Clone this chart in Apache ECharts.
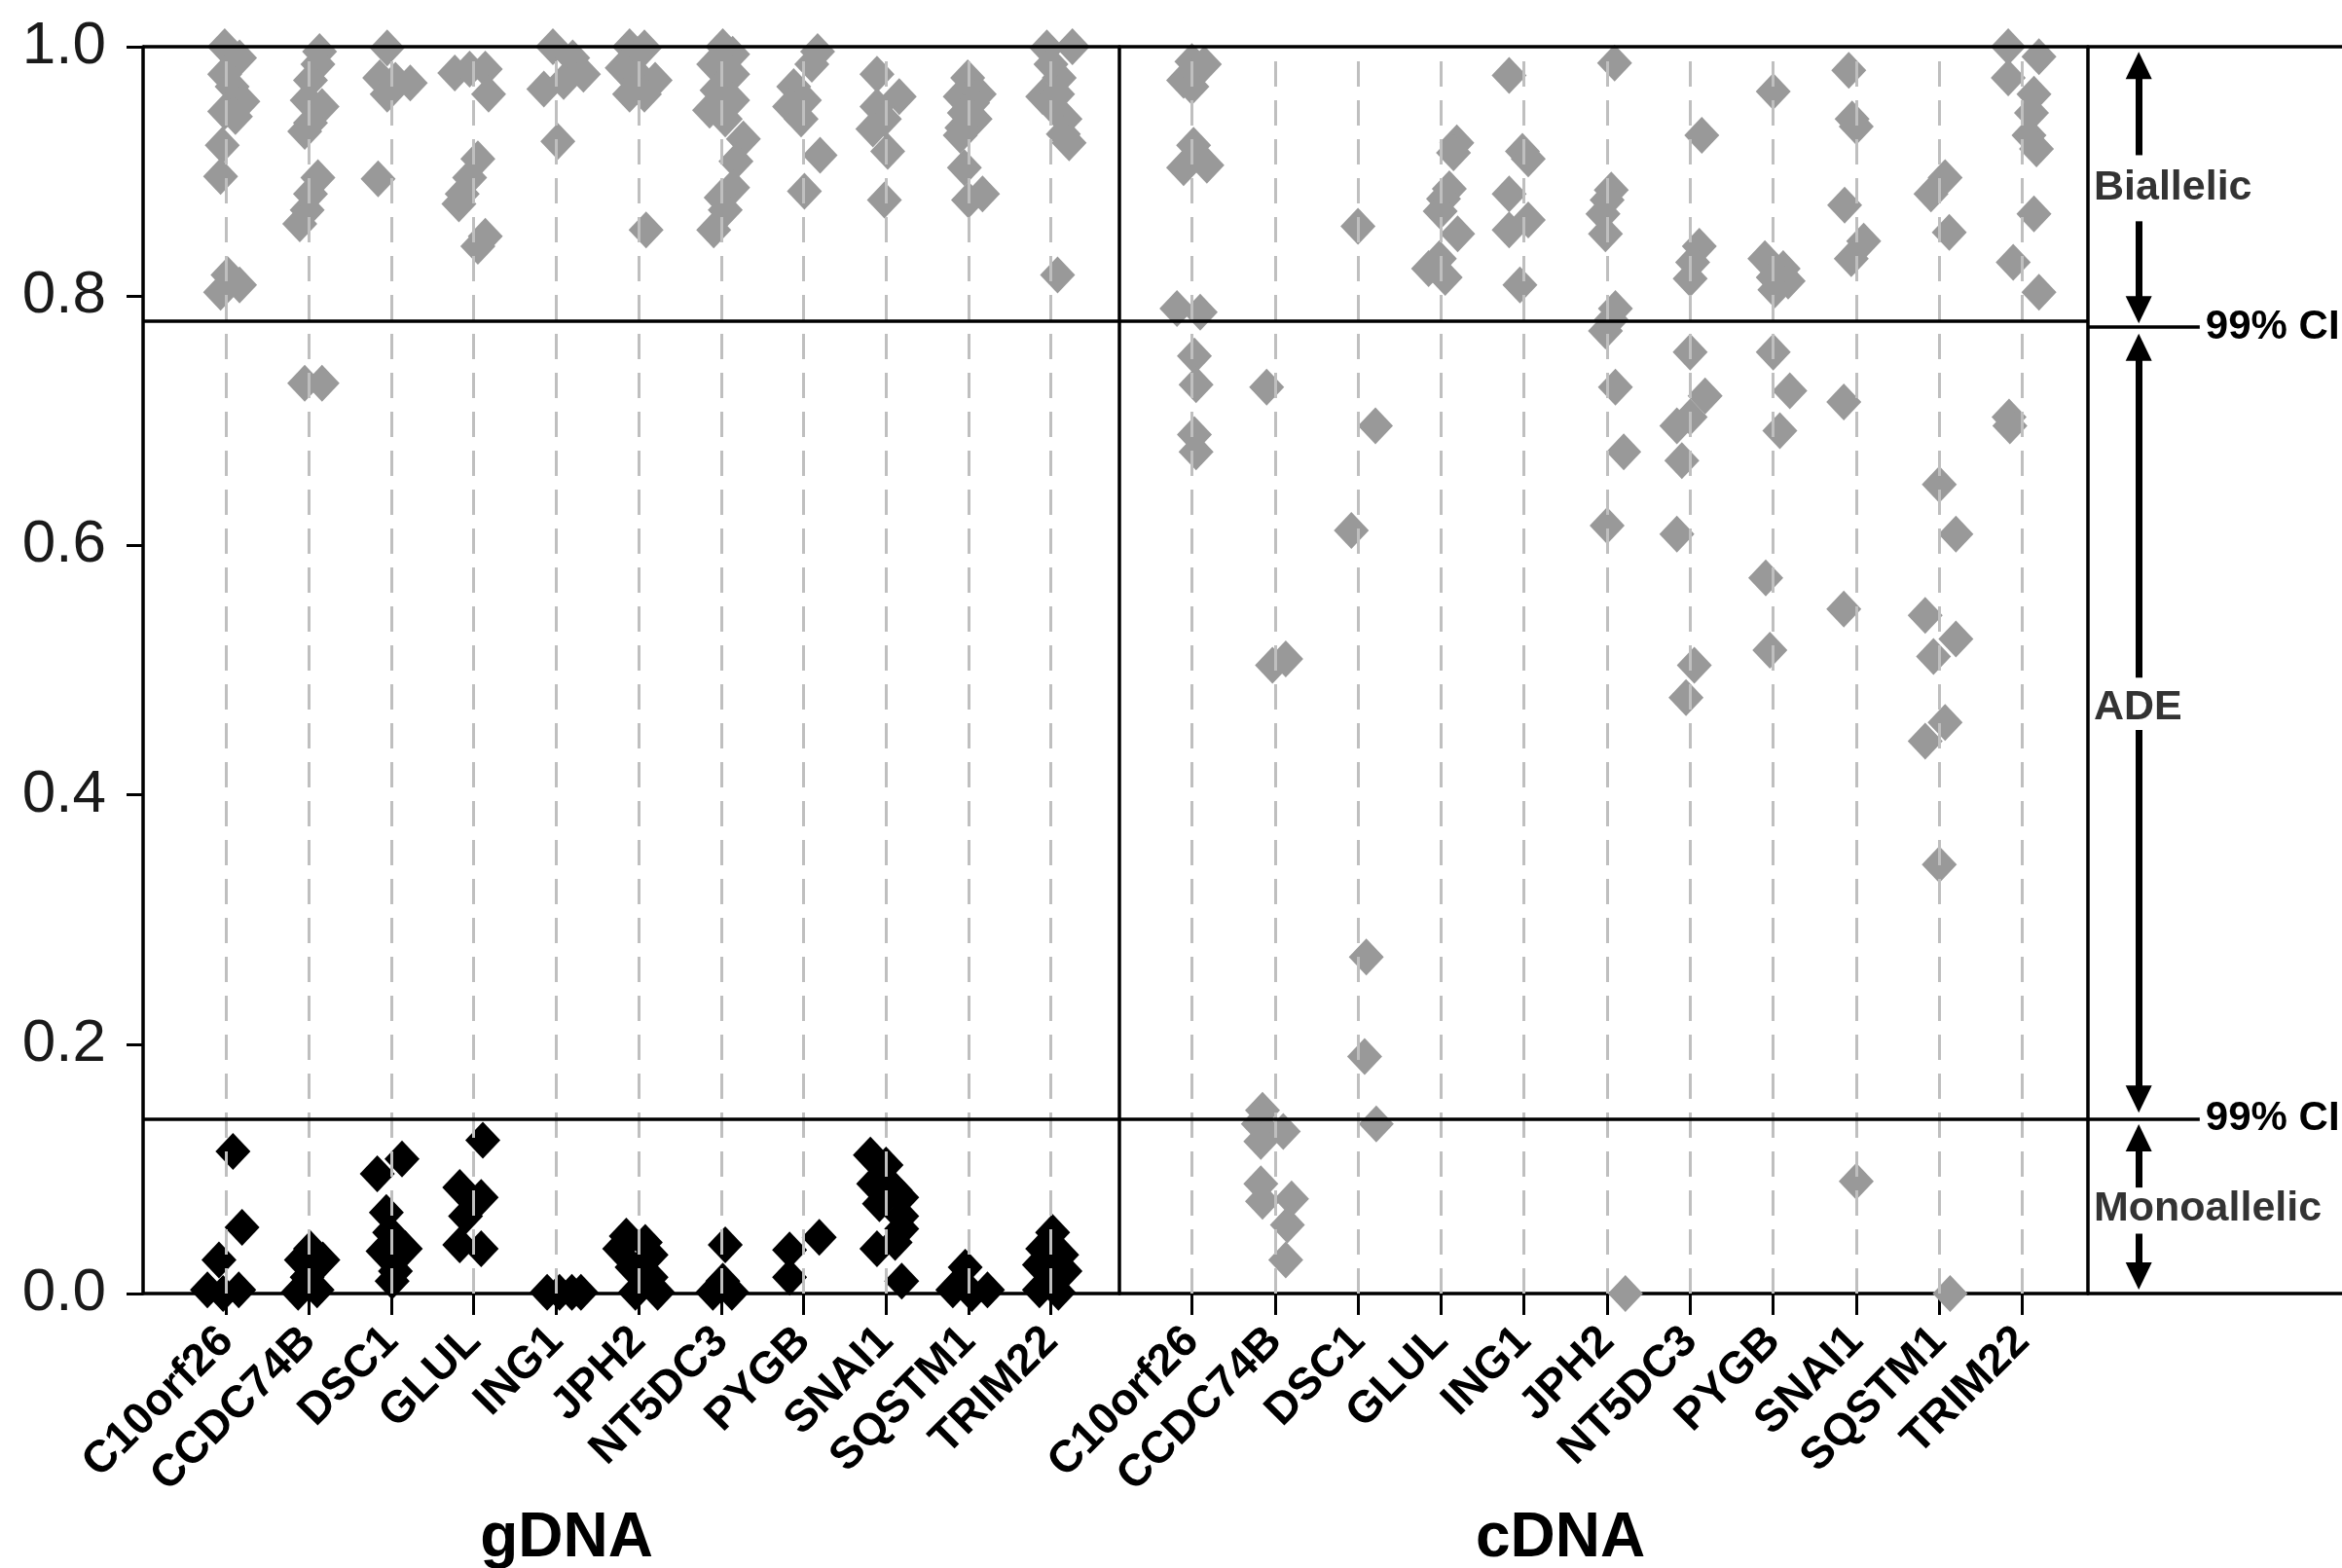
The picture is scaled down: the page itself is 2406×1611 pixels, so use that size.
<!DOCTYPE html>
<html>
<head>
<meta charset="utf-8">
<title>Allelic ratio, gDNA vs cDNA</title>
<script src="https://cdn.jsdelivr.net/npm/echarts@6/dist/echarts.min.js"></script>
<style>
  html, body { margin: 0; padding: 0; background: #fff; }
  #chart { width: 2406px; height: 1611px; }
</style>
</head>
<body>
<div id="chart"></div>
<script>
var genes = ['C10orf26', 'CCDC74B', 'DSC1', 'GLUL', 'ING1', 'JPH2', 'NT5DC3', 'PYGB', 'SNAI1', 'SQSTM1', 'TRIM22'];
var yTicks = [0, 0.2, 0.4, 0.6, 0.8, 1.0];
var ciBounds = [0.14, 0.775];

// rows are [gene index, horizontal jitter, allelic ratio]
var gdnaHigh = [
    [0, -0.02, 1.0], [0, 0.16, 0.991], [0, -0.02, 0.978], [0, 0.07, 0.968], [0, 0.2, 0.956], [0, -0.02, 0.948],
    [0, 0.11, 0.944], [0, -0.05, 0.921], [0, -0.07, 0.896], [0, 0.02, 0.817], [0, 0.16, 0.809], [0, -0.07, 0.803],
    [1, 0.13, 0.996], [1, 0.11, 0.986], [1, 0.02, 0.973], [1, -0.02, 0.957], [1, 0.16, 0.952], [1, 0.02, 0.939],
    [1, -0.05, 0.932], [1, 0.11, 0.895], [1, 0.02, 0.882], [1, -0.02, 0.869], [1, -0.11, 0.858], [1, -0.05, 0.730], [1, 0.16, 0.730],
    [2, -0.05, 0.999], [2, -0.14, 0.975], [2, 0.05, 0.973], [2, 0.23, 0.971], [2, -0.05, 0.962], [2, -0.16, 0.894],
    [3, -0.23, 0.979], [3, -0.05, 0.982], [3, 0.14, 0.982], [3, 0.18, 0.962], [3, 0.05, 0.910], [3, -0.05, 0.895],
    [3, -0.14, 0.882], [3, -0.18, 0.874], [3, 0.14, 0.848], [3, 0.05, 0.840],
    [4, -0.04, 1.0], [4, 0.2, 0.991], [4, 0.33, 0.978], [4, 0.09, 0.972], [4, -0.15, 0.966], [4, 0.02, 0.924],
    [5, -0.11, 1.0], [5, 0.07, 0.999], [5, -0.2, 0.983], [5, -0.02, 0.978], [5, 0.2, 0.973], [5, -0.11, 0.962],
    [5, 0.07, 0.962], [5, 0.09, 0.853],
    [6, 0.02, 1.0], [6, 0.14, 0.994], [6, -0.09, 0.986], [6, 0.14, 0.978], [6, -0.05, 0.965], [6, 0.14, 0.957],
    [6, -0.14, 0.949], [6, 0.05, 0.942], [6, 0.27, 0.926], [6, 0.18, 0.908], [6, 0.14, 0.887], [6, 0.0, 0.879],
    [6, 0.05, 0.869], [6, -0.09, 0.853],
    [7, 0.17, 0.996], [7, 0.1, 0.986], [7, -0.12, 0.968], [7, 0.01, 0.957], [7, -0.17, 0.952], [7, -0.03, 0.942],
    [7, 0.2, 0.913], [7, 0.01, 0.884],
    [8, -0.11, 0.978], [8, 0.16, 0.960], [8, -0.11, 0.952], [8, -0.02, 0.942], [8, -0.16, 0.934], [8, 0.02, 0.916], [8, -0.02, 0.877],
    [9, -0.01, 0.975], [9, -0.1, 0.960], [9, 0.13, 0.962], [9, 0.05, 0.955], [9, -0.05, 0.947], [9, 0.08, 0.942],
    [9, -0.08, 0.935], [9, -0.1, 0.929], [9, -0.05, 0.903], [9, 0.17, 0.882], [9, 0.0, 0.877],
    [10, 0.26, 1.0], [10, -0.05, 0.999], [10, 0.0, 0.986], [10, 0.1, 0.975], [10, -0.1, 0.960], [10, 0.08, 0.962],
    [10, 0.05, 0.950], [10, 0.17, 0.942], [10, 0.15, 0.930], [10, 0.22, 0.923], [10, 0.08, 0.817]
];

var gdnaLow = [
    [0, 0.08, 0.114], [0, 0.19, 0.053], [0, -0.09, 0.027], [0, -0.23, 0.003], [0, -0.04, 0.0], [0, 0.15, 0.003],
    [1, -0.09, 0.027], [1, 0.17, 0.027], [1, 0.02, 0.036], [1, -0.02, 0.013], [1, -0.13, 0.001], [1, 0.1, 0.003],
    [2, -0.17, 0.096], [2, 0.13, 0.108], [2, -0.06, 0.065], [2, -0.02, 0.049], [2, 0.17, 0.036], [2, -0.1, 0.034],
    [2, 0.05, 0.018], [2, 0.01, 0.010],
    [3, 0.11, 0.123], [3, -0.17, 0.085], [3, 0.09, 0.077], [3, -0.1, 0.062], [3, -0.17, 0.039], [3, 0.09, 0.036],
    [4, -0.11, 0.001], [4, 0.04, 0.001], [4, 0.19, 0.001], [4, 0.3, 0.001],
    [5, -0.15, 0.046], [5, 0.08, 0.041], [5, 0.15, 0.031], [5, -0.08, 0.021], [5, 0.15, 0.013], [5, -0.04, 0.001],
    [5, 0.23, 0.001], [5, -0.23, 0.036],
    [6, 0.05, 0.039], [6, -0.1, 0.001], [6, 0.13, 0.001], [6, 0.02, 0.010],
    [7, -0.17, 0.035], [7, 0.19, 0.045], [7, -0.17, 0.013],
    [8, -0.19, 0.111], [8, 0.0, 0.103], [8, -0.15, 0.088], [8, 0.11, 0.083], [8, 0.19, 0.077], [8, -0.08, 0.072],
    [8, 0.19, 0.052], [8, 0.19, 0.062], [8, -0.11, 0.036], [8, 0.11, 0.041], [8, 0.19, 0.010],
    [9, -0.04, 0.021], [9, -0.19, 0.003], [9, 0.04, 0.0], [9, 0.23, 0.003],
    [10, 0.02, 0.049], [10, -0.1, 0.036], [10, 0.13, 0.031], [10, -0.14, 0.023], [10, 0.17, 0.018], [10, -0.02, 0.010],
    [10, -0.14, 0.003], [10, 0.09, 0.001]
];

var cdna = [
    [0, 0.0, 0.988], [0, 0.15, 0.986], [0, -0.1, 0.973], [0, 0.0, 0.968], [0, 0.02, 0.921], [0, -0.1, 0.903],
    [0, 0.18, 0.905], [0, -0.18, 0.790], [0, 0.1, 0.787], [0, 0.03, 0.752], [0, 0.05, 0.729], [0, 0.03, 0.689], [0, 0.05, 0.675],
    [1, -0.1, 0.727], [1, -0.03, 0.504], [1, 0.13, 0.509], [1, -0.15, 0.147], [1, -0.2, 0.136], [1, 0.1, 0.130],
    [1, -0.17, 0.122], [1, -0.17, 0.088], [1, -0.15, 0.074], [1, 0.2, 0.076], [1, 0.15, 0.055], [1, 0.13, 0.027],
    [2, 0.0, 0.856], [2, 0.21, 0.696], [2, -0.08, 0.612], [2, 0.1, 0.270], [2, 0.08, 0.190], [2, 0.22, 0.136],
    [3, 0.19, 0.923], [3, 0.15, 0.915], [3, 0.1, 0.886], [3, 0.03, 0.878], [3, -0.01, 0.868], [3, 0.2, 0.850],
    [3, -0.02, 0.830], [3, -0.15, 0.822], [3, 0.05, 0.815],
    [4, -0.18, 0.977], [4, -0.02, 0.916], [4, 0.05, 0.910], [4, -0.18, 0.882], [4, 0.05, 0.861], [4, -0.18, 0.853], [4, -0.05, 0.809],
    [5, 0.09, 0.987], [5, 0.05, 0.885], [5, 0.0, 0.877], [5, -0.05, 0.866], [5, -0.02, 0.850], [5, 0.1, 0.790],
    [5, 0.05, 0.781], [5, -0.02, 0.772], [5, 0.1, 0.727], [5, 0.2, 0.675], [5, 0.0, 0.616], [5, 0.22, 0.0],
    [6, 0.14, 0.929], [6, 0.11, 0.840], [6, 0.03, 0.827], [6, 0.0, 0.814], [6, 0.0, 0.755], [6, 0.18, 0.720],
    [6, 0.0, 0.703], [6, -0.16, 0.696], [6, -0.1, 0.668], [6, -0.16, 0.609], [6, 0.05, 0.504], [6, -0.05, 0.478],
    [7, 0.0, 0.964], [7, -0.1, 0.830], [7, 0.12, 0.822], [7, 0.0, 0.815], [7, 0.18, 0.812], [7, 0.02, 0.805],
    [7, 0.0, 0.755], [7, 0.2, 0.724], [7, 0.08, 0.692], [7, -0.09, 0.574], [7, -0.04, 0.516],
    [8, -0.09, 0.981], [8, -0.05, 0.942], [8, 0.0, 0.936], [8, -0.14, 0.873], [8, 0.09, 0.844], [8, -0.06, 0.830],
    [8, -0.15, 0.715], [8, -0.15, 0.549], [8, 0.0, 0.090],
    [9, -0.1, 0.882], [9, 0.07, 0.895], [9, 0.12, 0.851], [9, 0.0, 0.649], [9, 0.2, 0.609], [9, -0.17, 0.544],
    [9, 0.2, 0.525], [9, -0.07, 0.511], [9, 0.07, 0.458], [9, -0.17, 0.443], [9, 0.0, 0.344], [9, 0.13, 0.0],
    [10, -0.17, 1.0], [10, 0.2, 0.992], [10, -0.17, 0.975], [10, 0.14, 0.962], [10, 0.11, 0.947], [10, 0.08, 0.929],
    [10, 0.17, 0.918], [10, 0.14, 0.866], [10, -0.11, 0.827], [10, 0.2, 0.803], [10, -0.16, 0.703], [10, -0.15, 0.696]
];

// right-hand key
var zoneNames = ['Biallelic', 'ADE', 'Monoallelic'];
var zoneLabelY = [0.887, 0.47, 0.068];
// arrow shafts [from, to], head drawn on the "to" end
var arrowShafts = [[0.913, 0.985], [0.860, 0.789], [0.494, 0.759], [0.452, 0.156], [0.085, 0.125], [0.048, 0.014]];

var FONT = 'Liberation Sans, Arial, Helvetica, sans-serif';
var GRAY = '#999999';

var chart = echarts.init(document.getElementById('chart'));

function place(rows) {
    return rows.map(function (r) { return [r[0] + r[1], r[2]]; });
}

function geneAxis(gridIndex, min, max) {
    return {
        type: 'value',
        gridIndex: gridIndex,
        min: min,
        max: max,
        axisLine: { onZero: false, lineStyle: { color: '#000', width: 3.5 } },
        axisTick: {
            customValues: genes.map(function (g, i) { return i; }),
            length: 22,
            lineStyle: { color: '#000', width: 3 }
        },
        axisLabel: {
            customValues: genes.map(function (g, i) { return i; }),
            formatter: function (v) { return genes[Math.round(v)]; },
            rotate: 45,
            margin: 42,
            color: '#000',
            fontFamily: FONT,
            fontWeight: 'bold',
            fontSize: 46
        },
        splitLine: { show: false }
    };
}

function ratioAxis(gridIndex, withLabels) {
    return {
        type: 'value',
        gridIndex: gridIndex,
        min: yTicks[0],
        max: yTicks[yTicks.length - 1],
        interval: 0.2,
        axisLine: { show: true, onZero: false, lineStyle: { color: '#000', width: 3.5 } },
        axisTick: { show: withLabels, length: 17, lineStyle: { color: '#000', width: 3 } },
        axisLabel: {
            show: withLabels,
            formatter: function (v) { return v.toFixed(1); },
            margin: 38,
            color: '#1a1a1a',
            fontFamily: FONT,
            fontSize: 62
        },
        splitLine: { show: false }
    };
}

// dashed gene guides plus the box lines at 1.0 and the two 99% CI bounds
function guideLines() {
    var lines = genes.map(function (g, i) {
        return { xAxis: i, lineStyle: { type: [26, 14], color: '#bfbfbf', width: 3 } };
    });
    lines.push({ yAxis: 1.0 });
    ciBounds.forEach(function (b) { lines.push({ yAxis: b }); });
    return lines;
}

function guideSeries(idx) {
    return {
        type: 'line',
        xAxisIndex: idx,
        yAxisIndex: idx,
        data: [],
        z: 1,
        markLine: {
            silent: true,
            animation: false,
            symbol: 'none',
            label: { show: false },
            lineStyle: { color: '#000', width: 3.5, type: 'solid' },
            data: guideLines()
        }
    };
}

function dots(idx, rows, color) {
    return {
        type: 'scatter',
        xAxisIndex: idx,
        yAxisIndex: idx,
        symbol: 'diamond',
        symbolSize: [36, 38],
        clip: false,
        z: 3,
        itemStyle: { color: color, opacity: 1 },
        data: place(rows)
    };
}

var keyLines = [[{ coord: [0, 1.0] }, { coord: [1, 1.0] }]];
ciBounds.forEach(function (b) {
    keyLines.push([
        { coord: [0, b] },
        {
            coord: [0.44, b],
            label: {
                show: true, position: 'end', distance: 6, formatter: '99% CI',
                color: '#000', fontFamily: FONT, fontWeight: 'bold', fontSize: 42
            }
        }
    ]);
});
arrowShafts.forEach(function (s) {
    keyLines.push([
        { coord: [0.2, s[0]], symbol: 'none' },
        { coord: [0.2, s[1]], symbol: 'triangle', symbolSize: [27, 28], lineStyle: { width: 7 } }
    ]);
});

chart.setOption({
    animation: false,
    textStyle: { fontFamily: FONT },
    title: [
        { text: 'gDNA', left: 582, top: 1549, textAlign: 'center', padding: 0,
          textStyle: { fontFamily: FONT, fontWeight: 'bold', fontSize: 64, color: '#000' } },
        { text: 'cDNA', left: 1603, top: 1549, textAlign: 'center', padding: 0,
          textStyle: { fontFamily: FONT, fontWeight: 'bold', fontSize: 64, color: '#000' } }
    ],
    grid: [
        { left: 147, top: 48, width: 1003, height: 1281, containLabel: false, outerBoundsMode: 'none' },
        { left: 1150, top: 48, width: 995, height: 1281, containLabel: false, outerBoundsMode: 'none' },
        { left: 2145, top: 48, width: 261, height: 1281, containLabel: false, outerBoundsMode: 'none' }
    ],
    xAxis: [
        geneAxis(0, -1.01, 10.83),
        geneAxis(1, -0.873, 10.79),
        {
            type: 'value', gridIndex: 2, min: 0, max: 1,
            axisLine: { onZero: false, lineStyle: { color: '#000', width: 3.5 } },
            axisTick: { show: false }, axisLabel: { show: false }, splitLine: { show: false }
        }
    ],
    yAxis: [ratioAxis(0, true), ratioAxis(1, false), ratioAxis(2, false)],
    series: [
        guideSeries(0),
        guideSeries(1),
        dots(0, gdnaHigh, GRAY),
        dots(0, gdnaLow, '#000'),
        dots(1, cdna, GRAY),
        {
            type: 'line',
            xAxisIndex: 2,
            yAxisIndex: 2,
            data: [],
            z: 1,
            markLine: {
                silent: true,
                animation: false,
                symbol: 'none',
                label: { show: false },
                lineStyle: { color: '#000', width: 3.5, type: 'solid' },
                data: keyLines
            }
        },
        {
            type: 'scatter',
            xAxisIndex: 2,
            yAxisIndex: 2,
            symbolSize: 0,
            silent: true,
            z: 4,
            data: zoneNames.map(function (n, i) { return { name: n, value: [0, zoneLabelY[i]] }; }),
            label: {
                show: true,
                position: 'right',
                distance: 6,
                formatter: '{b}',
                color: '#000',
                fontFamily: FONT,
                fontWeight: 'bold',
                fontSize: 43,
                backgroundColor: '#fff'
            }
        }
    ]
});
</script>
</body>
</html>
